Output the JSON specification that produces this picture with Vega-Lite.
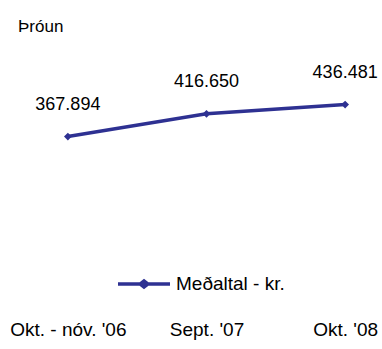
{
  "$schema": "https://vega.github.io/schema/vega-lite/v6.json",
  "autosize": "none",
  "width": 305,
  "height": 233,
  "padding": {"left": 54, "top": 75, "right": 23, "bottom": 41},
  "background": "white",
  "title": {"text": "Þróun", "anchor": "start", "frame": "group", "dx": -36, "offset": 28, "font": "Liberation Sans", "fontSize": 17, "fontWeight": "normal", "color": "#000000"},
  "config": {"view": {"stroke": null}, "font": "Liberation Sans"},
  "data": {"values": [
    {"periode": "Okt. - nóv. '06", "value": 367894, "label": "367.894", "series": "Meðaltal - kr."},
    {"periode": "Sept. '07", "value": 416650, "label": "416.650", "series": "Meðaltal - kr."},
    {"periode": "Okt. '08", "value": 436481, "label": "436.481", "series": "Meðaltal - kr."}
  ]},
  "encoding": {
    "x": {"field": "periode", "type": "nominal", "sort": null, "scale": {"type": "point", "padding": 0.1},
      "axis": {"title": null, "labelAngle": 0, "domain": false, "ticks": false, "grid": false, "labelPadding": 12, "labelFontSize": 19, "labelColor": "#000000", "labelFont": "Liberation Sans"}},
    "y": {"field": "value", "type": "quantitative", "scale": {"domain": [0, 500000]}, "axis": null}
  },
  "layer": [
    {"mark": {"type": "line", "strokeWidth": 3.5, "color": "#2E3192", "point": {"shape": "diamond", "size": 60, "filled": true, "color": "#2E3192"}},
      "encoding": {"color": {"field": "series", "type": "nominal", "scale": {"range": ["#2E3192"]},
        "legend": {"title": null, "orient": "none", "legendX": 62, "legendY": 181, "symbolType": "M-1,0H1M-0.15,0L0,-0.12L0.15,0L0,0.12Z", "symbolSize": 2704, "symbolStrokeWidth": 3.5, "symbolFillColor": "#2E3192", "symbolStrokeColor": "#2E3192", "labelFontSize": 19, "labelFont": "Liberation Sans", "labelColor": "#000000", "labelOffset": 4}}}},
    {"mark": {"type": "text", "dy": -32, "fontSize": 18, "font": "Liberation Sans", "color": "#000000"},
      "encoding": {"text": {"field": "label", "type": "nominal"}}}
  ]
}
